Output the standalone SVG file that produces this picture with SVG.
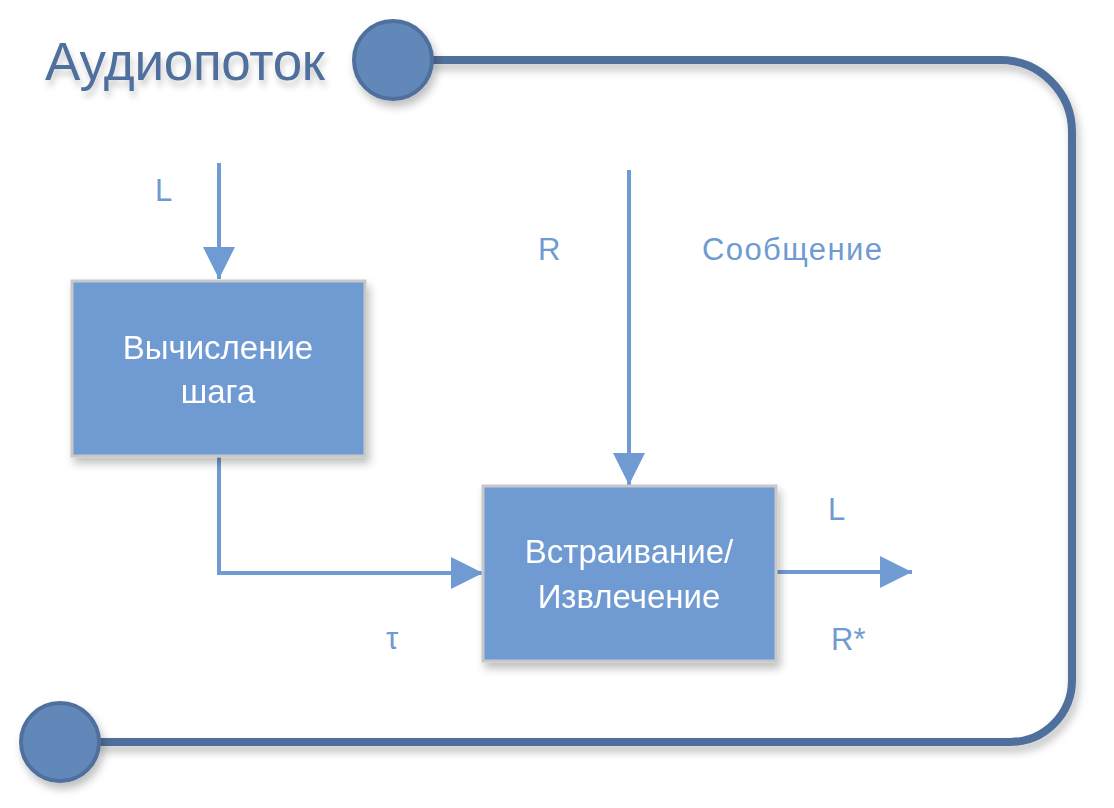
<svg xmlns="http://www.w3.org/2000/svg" width="1114" height="808" viewBox="0 0 1114 808">
  <defs>
    <filter id="sh" x="-20%" y="-20%" width="140%" height="150%">
      <feDropShadow dx="3" dy="6" stdDeviation="4" flood-color="#000" flood-opacity="0.25"/>
    </filter>
    <filter id="tsh" x="-10%" y="-30%" width="120%" height="180%">
      <feDropShadow dx="2" dy="6" stdDeviation="3" flood-color="#000" flood-opacity="0.2"/>
    </filter>
    <marker id="ah" markerUnits="userSpaceOnUse" markerWidth="32" markerHeight="34" refX="32" refY="17" orient="auto">
      <path d="M0,1 L32,17 L0,33 Z" fill="#6F9BD2"/>
    </marker>
    <style>
      .loop { fill: none; stroke: #50709C; stroke-width: 8; }
      .dot { fill: #6288BA; stroke: #50709C; stroke-width: 4; }
      .box { fill: #6F9BD2; stroke: #C8C8C8; stroke-width: 3; }
      .btxt { fill: #fff; font-family: "Liberation Sans", Arial, sans-serif; font-size: 33px; text-anchor: middle; }
      .lbl { fill: #6F9BD2; font-family: "Liberation Sans", Arial, sans-serif; font-size: 31px; }
      .conn { fill: none; stroke: #6F9BD2; stroke-width: 4; }
      .title { fill: #50709C; font-family: "Liberation Sans", Arial, sans-serif; font-size: 53px; }
    </style>
  </defs>

  <g id="loop" filter="url(#sh)">
    <path class="loop" d="M430,60 H1000 A72,72 0 0 1 1072,132 V680 A62,62 0 0 1 1010,742 H95"/>
  </g>

  <g id="title">
    <text class="title" x="45" y="80" filter="url(#tsh)" textLength="280">Аудиопоток</text>
  </g>
  <g id="start-dot" filter="url(#sh)">
    <circle class="dot" cx="393" cy="60" r="39"/>
  </g>
  <g id="end-dot" filter="url(#sh)">
    <circle class="dot" cx="60" cy="742" r="39"/>
  </g>

  <g id="connectors">
    <line class="conn" x1="219" y1="163" x2="219" y2="279" marker-end="url(#ah)"/>
    <polyline class="conn" points="219,456 219,573 483,573" marker-end="url(#ah)"/>
    <line class="conn" x1="629" y1="170" x2="629" y2="485" marker-end="url(#ah)"/>
    <line class="conn" x1="776" y1="572" x2="912" y2="572" marker-end="url(#ah)"/>
  </g>

  <g id="node-step" filter="url(#sh)">
    <rect class="box" x="72" y="281" width="293" height="175"/>
    <text class="btxt" x="218" y="359">Вычисление</text>
    <text class="btxt" x="218" y="403">шага</text>
  </g>

  <g id="node-embed" filter="url(#sh)">
    <rect class="box" x="483" y="486" width="293" height="175"/>
    <text class="btxt" x="629" y="563">Встраивание/</text>
    <text class="btxt" x="629" y="608">Извлечение</text>
  </g>

  <g id="labels">
    <text class="lbl" x="155" y="201" font-size="32">L</text>
    <text class="lbl" x="538" y="260">R</text>
    <text class="lbl" x="702" y="260" textLength="180">Сообщение</text>
    <text class="lbl" x="386" y="649" font-size="38">τ</text>
    <text class="lbl" x="828" y="520" font-size="32">L</text>
    <text class="lbl" x="831" y="650">R*</text>
  </g>
</svg>
